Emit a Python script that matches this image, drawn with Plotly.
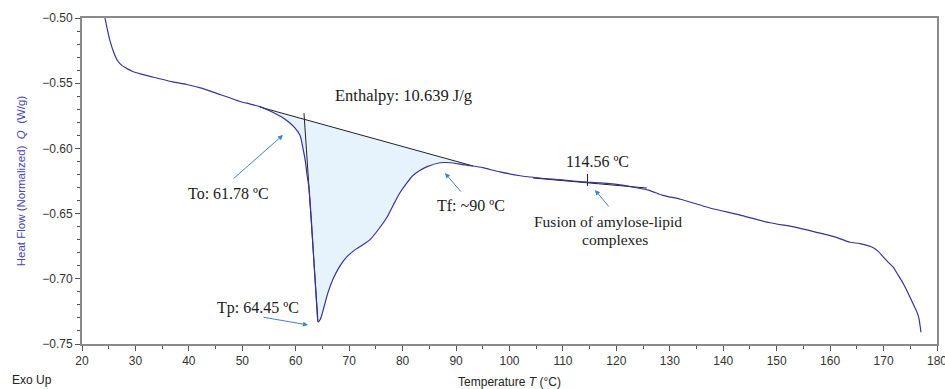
import plotly.graph_objects as go

# DSC curve
temp = [24.3, 25.2, 26.0, 26.7, 27.5, 28.5, 29.5, 32.0, 34.0, 37.0, 39.6, 42.5, 45.3, 47.5, 49.6, 51.5, 53.3,
        55.0, 56.5, 57.8, 58.9, 59.8, 60.8, 61.4, 61.8, 62.1, 62.4, 62.7, 63.0, 63.3, 63.6, 63.9,
        64.2, 64.6, 65.2, 66.0, 67.0, 68.0, 68.8, 69.6, 71.0, 72.5, 73.9, 75.5, 77.1, 78.3, 79.5,
        80.7, 81.9, 83.2, 84.6, 87.0, 89.0, 91.0, 93.2, 95.0, 98.2, 102.0, 105.7, 109.4,
        112.0, 114.5, 117.0, 120.7, 123.5, 126.0, 128.7, 132.0, 137.5, 143.0, 148.7, 153.0, 158.1,
        161.0, 163.7, 165.6, 168.0, 169.0, 169.9, 170.8, 171.8, 172.7, 173.6, 174.6, 175.5, 176.2,
        176.6, 176.8, 177.0]
heat_flow = [-0.500, -0.517, -0.527, -0.533, -0.5365, -0.539, -0.541, -0.544, -0.546, -0.549, -0.551,
             -0.554, -0.558, -0.561, -0.564, -0.566, -0.568, -0.571, -0.574, -0.577, -0.5805, -0.584,
             -0.590, -0.601, -0.610, -0.620, -0.628, -0.642, -0.660, -0.680, -0.700, -0.719, -0.733,
             -0.731, -0.723, -0.711, -0.700, -0.692, -0.687, -0.683, -0.678, -0.674, -0.670, -0.662,
             -0.6526, -0.643, -0.634, -0.627, -0.621, -0.617, -0.614, -0.611, -0.611, -0.6122,
             -0.6135, -0.6148, -0.618, -0.621, -0.6227, -0.624, -0.625, -0.6258, -0.6265, -0.628,
             -0.630, -0.632, -0.636, -0.639, -0.6457, -0.651, -0.657, -0.660, -0.665, -0.668, -0.672,
             -0.673, -0.676, -0.679, -0.683, -0.687, -0.691, -0.697, -0.703, -0.711, -0.719, -0.725,
             -0.730, -0.735, -0.741]

# gelatinisation baseline and onset line
base_x = [53.3, 93.2]
base_y = [-0.5683, -0.6135]
onset_x = [61.54, 64.16]
onset_y = [-0.5729, -0.7331]
# amylose-lipid baseline and marker
lip_x = [104.4, 125.7]
lip_y = [-0.6227, -0.6304]
mark_x = [114.6, 114.6]
mark_y = [-0.6196, -0.6288]

curve_color = "#34349c"
arrow_color = "#3f82cc"
serif = "Liberation Serif"

fig = go.Figure()

# shaded area between curve and baseline
fx = [x for x in temp if base_x[0] <= x <= base_x[1]]
fy = [y for x, y in zip(temp, heat_flow) if base_x[0] <= x <= base_x[1]]
fig.add_trace(go.Scatter(x=fx + [base_x[1], base_x[0]], y=fy + [base_y[1], base_y[0]],
                         fill="toself", fillcolor="#e6f2fc", line=dict(width=0),
                         mode="lines", hoverinfo="skip", showlegend=False))
for lx, ly in [(base_x, base_y), (onset_x, onset_y), (lip_x, lip_y), (mark_x, mark_y)]:
    fig.add_trace(go.Scatter(x=lx, y=ly, mode="lines",
                             line=dict(color="#222222", width=1), showlegend=False))
fig.add_trace(go.Scatter(x=temp, y=heat_flow, mode="lines",
                         line=dict(color=curve_color, width=1.2, shape="spline", smoothing=0.7),
                         showlegend=False))

texts = [
    ("Enthalpy: 10.639 J/g", 80.1, -0.5598, 16.5),
    ("114.56 ºC", 116.4, -0.6097, 16),
    ("To: 61.78 ºC", 47.5, -0.6342, 16),
    ("Tp: 64.45 ºC", 52.9, -0.7224, 16),
    ("Tf: ~90 ºC", 92.8, -0.6435, 16),
    ("Fusion of amylose-lipid", 118.4, -0.6557, 15.5),
    ("complexes", 119.8, -0.6695, 15.5),
]
for t, x, y, s in texts:
    fig.add_annotation(x=x, y=y, text=t, showarrow=False,
                       font=dict(family=serif, size=s, color="#1a1a1a"),
                       xanchor="center", yanchor="middle", borderpad=0)

arrows = [
    (57.61, -0.5897, 48.07, -0.6242),
    (62.29, -0.7354, 53.68, -0.7293),
    (87.93, -0.6189, 91.11, -0.6342),
    (116.0, -0.6319, 118.8, -0.6457),
]
for hx, hy, tx, ty in arrows:
    fig.add_annotation(x=hx, y=hy, ax=tx, ay=ty, axref="x", ayref="y", xref="x", yref="y",
                       text="", showarrow=True, arrowhead=2, arrowsize=1, arrowwidth=1,
                       arrowcolor=arrow_color)

fig.add_annotation(xref="paper", yref="paper", x=-72 / 855, y=0, text="Exo Up", showarrow=False,
                   xanchor="left", yanchor="middle", yshift=-36,
                   font=dict(family="Liberation Sans", size=12, color="#222"))

axis_common = dict(showgrid=False, zeroline=False, showline=True, linecolor="#8a8a8a",
                   linewidth=2, mirror=True, ticks="outside", ticklen=5, tickwidth=1,
                   automargin=False,
                   tickcolor="#555", tickfont=dict(family="Liberation Sans", size=12, color="#333"))

fig.update_xaxes(range=[20, 180.0001], dtick=10, tick0=20, ticklabeloverflow="allow",
                 minor=dict(dtick=5, ticks="outside", ticklen=3, tickcolor="#555"),
                 title=dict(text="Temperature <i>T</i> (°C)", standoff=14,
                            font=dict(family="Liberation Sans", size=12, color="#222")),
                 **axis_common)
fig.update_yaxes(range=[-0.75, -0.50], dtick=0.05, tick0=-0.75, tickformat=".2f",
                 minor=dict(dtick=0.01, ticks="outside", ticklen=3, tickcolor="#555"),
                 title=dict(text="Heat Flow (Normalized)  <i>Q</i>  (W/g)", standoff=14,
                            font=dict(family="Liberation Sans", size=11.5, color="#4646b8")),
                 **axis_common)

fig.update_layout(width=945, height=389, margin=dict(l=82, r=8, t=18, b=45, autoexpand=False),
                  plot_bgcolor="white", paper_bgcolor="white", showlegend=False)

fig.write_html("out.html")
